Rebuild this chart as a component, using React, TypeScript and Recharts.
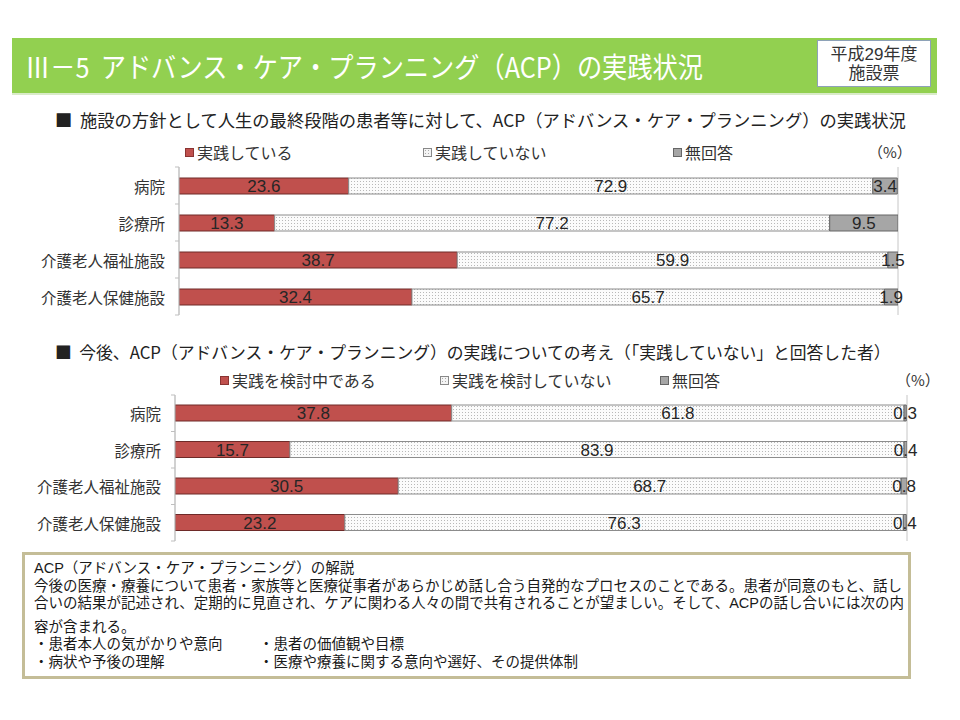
import { Bar, BarChart, CartesianGrid, LabelList, XAxis, YAxis } from "recharts";

const categories = ["病院", "診療所", "介護老人福祉施設", "介護老人保健施設"];

const seriesNames1 = ["実践している", "実践していない", "無回答"];
const practicing = [23.6, 13.3, 38.7, 32.4];
const notPracticing = [72.9, 77.2, 59.9, 65.7];
const noAnswer1 = [3.4, 9.5, 1.5, 1.9];

const seriesNames2 = ["実践を検討中である", "実践を検討していない", "無回答"];
const considering = [37.8, 15.7, 30.5, 23.2];
const notConsidering = [61.8, 83.9, 68.7, 76.3];
const noAnswer2 = [0.3, 0.4, 0.8, 0.4];

const xTicks = [0, 20, 40, 60, 80, 100];

const JP = '"Noto Sans CJK JP", "Noto Sans", sans-serif';
const NOTE = '"Liberation Sans", "Noto Sans CJK JP", sans-serif';
const NUM = '"Liberation Sans Narrow", "Liberation Sans", Arial, sans-serif';

const RED = "#c0504d";
const GRAY = "#a6a6a6";

const legendColors = [RED, "dots", GRAY];

function makeRows(a: number[], b: number[], c: number[]) {
  return categories.map((name, i) => ({ name, a: a[i], b: b[i], c: c[i] }));
}

const rows1 = makeRows(practicing, notPracticing, noAnswer1);
const rows2 = makeRows(considering, notConsidering, noAnswer2);

function CatTick(props: any) {
  const { x, y, payload, index, band, axisX, count } = props;
  return (
    <g>
      <text
        x={x}
        y={y}
        textAnchor="end"
        dominantBaseline="central"
        fill="#333"
        fontSize={15.5}
        fontFamily={JP}
      >
        {payload.value}
      </text>
      <line x1={axisX - 4} x2={axisX} y1={y - band / 2} y2={y - band / 2} stroke="#bfbfbf" />
      {index === count - 1 && (
        <line x1={axisX - 4} x2={axisX} y1={y + band / 2} y2={y + band / 2} stroke="#bfbfbf" />
      )}
    </g>
  );
}

function StackChart({
  id,
  rows,
  top,
  axisX,
  plotRight,
  plotTop,
  plotBottom,
}: {
  id: string;
  rows: any[];
  top: number;
  axisX: number;
  plotRight: number;
  plotTop: number;
  plotBottom: number;
}) {
  const height = 170;
  const band = (plotBottom - plotTop) / rows.length;
  const labelProps = {
    position: "center" as const,
    fill: "#262626",
    fontSize: 17,
    fontFamily: NUM,
  };
  return (
    <div style={{ position: "absolute", left: 0, top, width: 960, height }}>
      <BarChart
        width={960}
        height={height}
        layout="vertical"
        data={rows}
        barSize={16}
        margin={{ top: plotTop - top, bottom: top + height - plotBottom, left: 0, right: 960 - plotRight }}
      >
        <defs>
          <pattern id={id} width={3} height={3} patternUnits="userSpaceOnUse">
            <rect width={3} height={3} fill="#fbfbfb" />
            <rect width={1} height={1} fill="#b8b8b8" />
          </pattern>
        </defs>
        <CartesianGrid horizontal={false} stroke="#c6c6c6" />
        <XAxis
          type="number"
          domain={[0, 100]}
          ticks={xTicks}
          allowDataOverflow
          axisLine={false}
          tickLine={false}
          tick={false}
          height={0}
        />
        <YAxis
          type="category"
          dataKey="name"
          width={axisX}
          axisLine={{ stroke: "#bfbfbf" }}
          tickLine={false}
          tickSize={0}
          tickMargin={14}
          interval={0}
          tick={<CatTick band={band} axisX={axisX} count={rows.length} />}
        />
        <Bar dataKey="a" stackId="s" fill={RED} stroke="#6e2a28" strokeWidth={1} isAnimationActive={false}>
          <LabelList dataKey="a" {...labelProps} />
        </Bar>
        <Bar dataKey="b" stackId="s" fill={`url(#${id})`} stroke="#8c8c8c" strokeWidth={1} isAnimationActive={false}>
          <LabelList dataKey="b" {...labelProps} />
        </Bar>
        <Bar dataKey="c" stackId="s" fill={GRAY} stroke="#666" strokeWidth={1} isAnimationActive={false}>
          <LabelList dataKey="c" {...labelProps} />
        </Bar>
      </BarChart>
    </div>
  );
}

function LegendRow({ names, xs, top, pctX }: { names: string[]; xs: number[]; top: number; pctX: number }) {
  return (
    <>
      {names.map((n, i) => {
        const c = legendColors[i];
        const box =
          c === "dots"
            ? { background: "#f4f4f4", border: "1px solid #888", backgroundImage: "radial-gradient(#aaa 0.6px, transparent 0.7px)", backgroundSize: "3px 3px" }
            : { background: c, border: `1px solid ${c === RED ? "#8a3432" : "#666"}` };
        return (
          <div
            key={n}
            style={{ position: "absolute", left: xs[i], top, display: "flex", alignItems: "center", height: 20, whiteSpace: "nowrap" }}
          >
            <span style={{ display: "inline-block", width: 7, height: 7, marginRight: 3, ...box }} />
            <span style={{ fontSize: 16, color: "#333", fontFamily: JP }}>{n}</span>
          </div>
        );
      })}
      <div style={{ position: "absolute", left: pctX, top, height: 20, lineHeight: "20px", fontSize: 15, color: "#333", fontFamily: JP }}>
        （%）
      </div>
    </>
  );
}

const noteLines = [
  "ACP（アドバンス・ケア・プランニング）の解説",
  "今後の医療・療養について患者・家族等と医療従事者があらかじめ話し合う自発的なプロセスのことである。患者が同意のもと、話し",
  "合いの結果が記述され、定期的に見直され、ケアに関わる人々の間で共有されることが望ましい。そして、ACPの話し合いには次の内",
];
const noteTail = "容が含まれる。";
const bulletsLeft = ["・患者本人の気がかりや意向", "・病状や予後の理解"];
const bulletsRight = ["・患者の価値観や目標", "・医療や療養に関する意向や選好、その提供体制"];

export default function App() {
  return (
    <div style={{ position: "absolute", left: 0, top: 0, width: 960, height: 720, background: "#fff", fontFamily: JP, overflow: "hidden" }}>
      {/* header band */}
      <div style={{ position: "absolute", left: 12, top: 38, width: 925, height: 55, background: "#92d050", borderBottom: "2px solid #d9ebc8" }} />
      <div
        style={{
          position: "absolute",
          left: 25,
          top: 44,
          fontSize: 28,
          lineHeight: "44px",
          color: "#fff",
          whiteSpace: "nowrap",
          transform: "scaleX(0.9)",
          transformOrigin: "left center",
        }}
      >
        Ⅲ－5&nbsp;&nbsp;アドバンス・ケア・プランニング（ACP）の実践状況
      </div>
      <div
        style={{
          position: "absolute",
          left: 817,
          top: 40,
          width: 114,
          height: 47,
          background: "#fff",
          border: "1px solid #8ea2b8",
          textAlign: "center",
          fontSize: 17,
          fontFamily: NOTE,
          color: "#333",
          paddingTop: 4,
          boxSizing: "border-box",
        }}
      >
        <div style={{ lineHeight: "19px", height: 19 }}>平成29年度</div>
        <div style={{ lineHeight: "19px", height: 19 }}>施設票</div>
      </div>

      {/* chart 1 */}
      <div style={{ position: "absolute", left: 55, top: 108, fontSize: 17.3, lineHeight: "24px", color: "#222", whiteSpace: "nowrap" }}>
        ■&nbsp;&nbsp;施設の方針として人生の最終段階の患者等に対して、ACP（アドバンス・ケア・プランニング）の実践状況
      </div>
      <LegendRow names={seriesNames1} xs={[185, 423, 673]} top={142} pctX={868} />
      <StackChart id="dots1" rows={rows1} top={160} axisX={179} plotRight={898} plotTop={167} plotBottom={315} />

      {/* chart 2 */}
      <div style={{ position: "absolute", left: 55, top: 340, fontSize: 16.8, lineHeight: "24px", color: "#222", whiteSpace: "nowrap" }}>
        ■&nbsp;&nbsp;今後、ACP（アドバンス・ケア・プランニング）の実践についての考え（「実践していない」と回答した者）
      </div>
      <LegendRow names={seriesNames2} xs={[220, 440, 660]} top={370} pctX={896} />
      <StackChart id="dots2" rows={rows2} top={388} axisX={175} plotRight={907} plotTop={395} plotBottom={541} />

      {/* note box */}
      <div
        style={{
          position: "absolute",
          left: 22,
          top: 552,
          width: 889,
          height: 127,
          border: "3px solid #c4bd97",
          boxSizing: "border-box",
          padding: "5px 0 0 9px",
          fontSize: 14.5,
          fontFamily: NOTE,
          color: "#1a1a1a",
          whiteSpace: "nowrap",
        }}
      >
        {noteLines.map((l) => (
          <div key={l} style={{ lineHeight: "17.5px", height: 17.5 }}>
            {l}
          </div>
        ))}
        <div style={{ lineHeight: "17.5px", height: 17.5, marginTop: 6 }}>{noteTail}</div>
        {bulletsLeft.map((l, i) => (
          <div key={l} style={{ lineHeight: "17.5px", height: 17.5, display: "flex" }}>
            <span style={{ width: 225 }}>{l}</span>
            <span>{bulletsRight[i]}</span>
          </div>
        ))}
      </div>
    </div>
  );
}
